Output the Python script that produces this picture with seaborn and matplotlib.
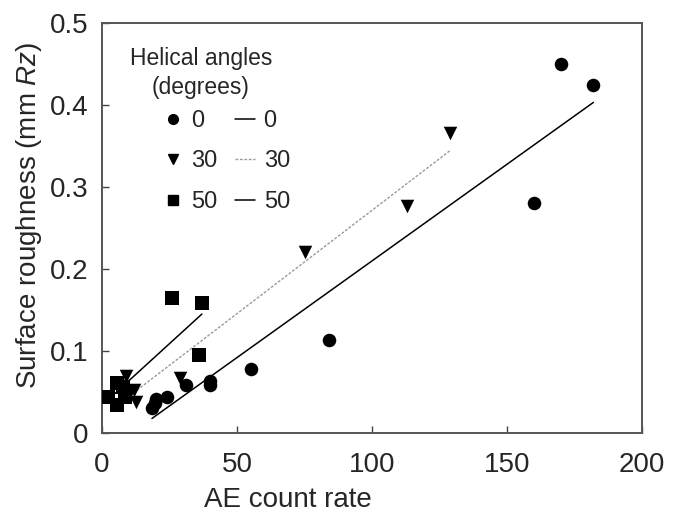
import matplotlib
matplotlib.use("Agg")
import matplotlib.pyplot as plt
from matplotlib.lines import Line2D
import seaborn as sns
import pandas as pd

# ---- data ----
ae_0 = [18.5, 19.5, 20, 24, 31, 40, 40, 55, 84, 160, 170, 182]
rz_0 = [0.030, 0.036, 0.042, 0.044, 0.059, 0.064, 0.058, 0.078, 0.113, 0.280, 0.450, 0.425]

ae_30 = [9, 10, 12, 12.5, 29, 75, 113, 129]
rz_30 = [0.069, 0.048, 0.052, 0.038, 0.067, 0.221, 0.277, 0.366]

ae_50 = [2.3, 5.4, 5.4, 7.9, 8.5, 26, 36, 37]
rz_50 = [0.044, 0.061, 0.034, 0.056, 0.044, 0.165, 0.095, 0.158]

angles = ["0", "30", "50"]
x_ticks = [0, 50, 100, 150, 200]
y_ticks = [0, 0.1, 0.2, 0.3, 0.4, 0.5]
y_tick_labels = ["0", "0.1", "0.2", "0.3", "0.4", "0.5"]

sns.set_style("ticks")
plt.rcParams["font.family"] = ["Liberation Sans", "DejaVu Sans"]
plt.rcParams["mathtext.fontset"] = "custom"
plt.rcParams["mathtext.it"] = "Liberation Sans:italic"
plt.rcParams["mathtext.rm"] = "Liberation Sans"

fig = plt.figure(figsize=(6.76, 5.18), dpi=100)
ax = fig.add_axes([102/676, 1-433/518, 540/676, 410/518])

DOT = (0, (2, 1.2))
groups = [
    (ae_0, rz_0, "o", dict(color="black", lw=1.1, ls="-")),
    (ae_30, rz_30, "v", dict(color="#9a9a9a", lw=1.0, ls=DOT)),
    (ae_50, rz_50, "s", dict(color="black", lw=1.1, ls="-")),
]
for xs, ys, mk, lkw in groups:
    df = pd.DataFrame({"ae": xs, "rz": ys})
    sns.regplot(data=df, x="ae", y="rz", ax=ax, ci=None, marker=mk,
                scatter_kws=dict(color="black", s=95, linewidths=0, alpha=1, zorder=3),
                line_kws=lkw)

ax.set_xlim(0, 200)
ax.set_ylim(0, 0.5)
ax.set_xticks(x_ticks)
ax.set_yticks(y_ticks)
ax.set_yticklabels(y_tick_labels)
ax.tick_params(direction="in", length=5, width=1, labelsize=20, color="#444444")
ax.tick_params(axis="x", pad=14)
ax.tick_params(axis="y", pad=10)
for sp in ax.spines.values():
    sp.set_visible(True)
    sp.set_color("#555555")
    sp.set_linewidth(1.4)

ax.set_xlabel("AE count rate", fontsize=20)
ax.set_ylabel(r"Surface roughness (mm $\it{Rz}$)", fontsize=20)
ax.xaxis.set_label_coords(0.344, -0.132)
ax.yaxis.set_label_coords(-0.108, 0.53)

# legend title
ax.text((201-102)/540, (433-47)/410, "Helical angles\n(degrees)", transform=ax.transAxes,
        ha="center", va="top", multialignment="center", fontsize=16.5, linespacing=1.35)

handles = [
    Line2D([], [], marker="o", ls="none", color="black", markersize=7),
    Line2D([], [], marker="v", ls="none", color="black", markersize=7.5),
    Line2D([], [], marker="s", ls="none", color="black", markersize=7),
    Line2D([], [], color="black", lw=1.1),
    Line2D([], [], color="#9a9a9a", lw=1.0, ls=DOT),
    Line2D([], [], color="black", lw=1.1),
]
labels = angles + angles
leg = ax.legend(handles, labels, ncol=2, loc="upper left",
                bbox_to_anchor=((163 - 102)/540, (433-110)/410), frameon=False,
                borderaxespad=0, borderpad=0,
                fontsize=17, handlelength=0.85,
                handletextpad=0.35, columnspacing=0.75, labelspacing=0.78)

fig.savefig("out.png", dpi=100)
